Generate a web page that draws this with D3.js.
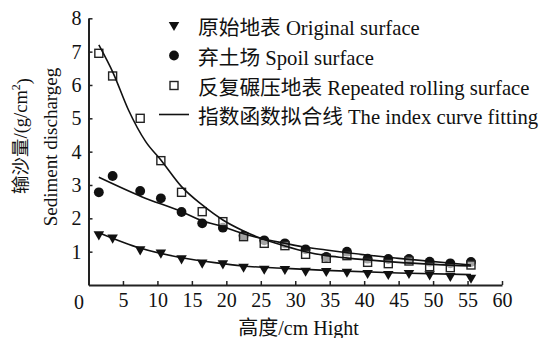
<!DOCTYPE html>
<html>
<head>
<meta charset="utf-8">
<script src="https://cdn.jsdelivr.net/npm/d3@7"></script>
<style>
  html, body { margin: 0; padding: 0; background: #fff; }
  svg text { font-family: "Liberation Serif", "Times New Roman", Tinos, "DejaVu Serif", serif; fill: #111; }
</style>
</head>
<body>
<svg id="chart" width="554" height="338"></svg>
<script>
// 高度 (cm)
const heights = [1.5, 3.5, 7.5, 10.5, 13.5, 16.5, 19.5, 22.5, 25.5, 28.5, 31.5, 34.5, 37.5, 40.5, 43.5, 46.5, 49.5, 52.5, 55.5];

// 输沙量 g/cm2
const original = [1.52, 1.42, 1.07, 0.97, 0.8, 0.67, 0.65, 0.55, 0.49, 0.48, 0.43, 0.42, 0.4, 0.36, 0.33, 0.36, 0.32, 0.27, 0.22];
const spoil    = [2.78, 3.27, 2.82, 2.6, 2.19, 1.85, 1.72, 1.48, 1.34, 1.25, 1.07, 0.84, 1.0, 0.79, 0.78, 0.78, 0.7, 0.65, 0.69];
const rolling  = [6.95, 6.27, 5.0, 3.73, 2.78, 2.2, 1.9, 1.45, 1.25, 1.18, 0.92, 0.8, 0.88, 0.68, 0.64, 0.72, 0.55, 0.52, 0.6];

// 拟合线 (读图取点)
const fitOriginal = [[1.5, 1.57], [7.6, 1.1], [13.5, 0.82], [18.3, 0.67], [22.4, 0.57], [28.6, 0.5], [34.4, 0.44], [45, 0.36], [55.5, 0.31]];
const fitSpoil    = [[1.5, 3.23], [7.7, 2.65], [13.5, 2.2], [16.5, 1.93], [19.5, 1.75], [22.5, 1.54], [25, 1.4], [28.5, 1.25], [31.5, 1.13], [34.5, 1.05], [37, 0.98], [45, 0.8], [55.5, 0.6]];
const fitRolling  = [[1.5, 7.2], [3.6, 6.35], [5.8, 5.25], [8.3, 4.3], [10.5, 3.75], [13.5, 2.95], [16.5, 2.4], [19.5, 1.95], [22.5, 1.62], [25, 1.4], [28.5, 1.17], [31.5, 1.0], [34.5, 0.88], [37, 0.82], [45, 0.68], [55.5, 0.57]];

const xTicks = [5, 10, 15, 20, 25, 30, 35, 40, 45, 50, 55, 60];
const yTicks = [1, 2, 3, 4, 5, 6, 7, 8];

const legendLabels = [
  "原始地表 Original surface",
  "弃土场 Spoil surface",
  "反复碾压地表 Repeated rolling surface",
  "指数函数拟合线 The index curve fitting"
];

const FONT = "'Liberation Serif', 'Times New Roman', Tinos, 'Noto Sans CJK SC', serif";

const svg = d3.select("#chart");

const x = d3.scaleLinear().domain([0, 60]).range([88.5, 502]);
const y = d3.scaleLinear().domain([0, 8]).range([285, 18.3]);

// 坐标轴
const xAxis = d3.axisBottom(x).tickValues(xTicks).tickSizeInner(-4).tickSizeOuter(0).tickPadding(10);
const yAxis = d3.axisLeft(y).tickValues(yTicks).tickSizeInner(-4).tickSizeOuter(0).tickPadding(7);

const gx = svg.append("g").attr("transform", `translate(0,${y(0)})`).call(xAxis);
const gy = svg.append("g").attr("transform", `translate(${x(0)},0)`).call(yAxis);

[gx, gy].forEach(g => {
  g.attr("font-family", null);
  g.select(".domain").attr("stroke", "#222").attr("stroke-width", 2);
  g.selectAll(".tick line").attr("stroke", "#222").attr("stroke-width", 1.5);
  g.selectAll(".tick text").style("font-size", "20px").style("font-family", FONT).attr("fill", "#111");
});
gx.selectAll(".tick text").attr("dy", "0.6em");

svg.append("text")
  .attr("x", x(0) - 9.5).attr("y", y(0) + 16.5)
  .attr("text-anchor", "middle").attr("dominant-baseline", "central")
  .style("font-family", FONT).style("font-size", "20px").text("0");

// 轴标题
svg.append("text")
  .attr("x", 298.5).attr("y", 328)
  .attr("text-anchor", "middle").attr("dominant-baseline", "central")
  .style("font-family", FONT).style("font-size", "20px").text("高度/cm Hight");

const yt1 = svg.append("text")
  .attr("transform", "translate(21,136) rotate(-90)")
  .attr("text-anchor", "middle").attr("dominant-baseline", "central")
  .style("font-family", FONT).style("font-size", "18.5px");
yt1.append("tspan").text("输沙量/(g/cm");
yt1.append("tspan").attr("dy", "-0.45em").style("font-size", "12px").text("2");
yt1.append("tspan").attr("dy", "0.45em").text(")");

svg.append("text")
  .attr("transform", "translate(50,147) rotate(-90)")
  .attr("text-anchor", "middle").attr("dominant-baseline", "central")
  .style("font-family", FONT).style("font-size", "19px").text("Sediment dischargeg");

// 标记
const tri = d3.symbol().type(d3.symbolTriangle).size(48);
const dot = d3.symbol().type(d3.symbolCircle).size(76);

const drawTri = (g, px, py) => g.append("path").attr("d", tri)
  .attr("transform", `translate(${px},${py}) rotate(180)`).attr("fill", "#111");
const drawDot = (g, px, py) => g.append("path").attr("d", dot)
  .attr("transform", `translate(${px},${py})`).attr("fill", "#111");
const drawSq = (g, px, py) => g.append("rect")
  .attr("x", px - 4).attr("y", py - 4).attr("width", 8).attr("height", 8)
  .attr("fill", "#fff").attr("fill-opacity", 0.62)
  .attr("stroke", "#222").attr("stroke-width", 1.4);

const marks = svg.append("g");
heights.forEach((h, i) => drawTri(marks, x(h), y(original[i])));
heights.forEach((h, i) => drawDot(marks, x(h), y(spoil[i])));
heights.forEach((h, i) => drawSq(marks, x(h), y(rolling[i])));

// 拟合线
const line = d3.line().x(d => x(d[0])).y(d => y(d[1])).curve(d3.curveMonotoneX);
[fitOriginal, fitSpoil, fitRolling].forEach(pts => {
  svg.append("path").attr("d", line(pts))
    .attr("fill", "none").attr("stroke", "#111").attr("stroke-width", 1.6);
});

// 图例
const legend = svg.append("g");
const rowY = [25, 55.5, 85.5, 114.5];
const symX = 174;
drawTri(legend, symX, rowY[0]);
drawDot(legend, symX, rowY[1]);
drawSq(legend, symX, rowY[2]).attr("fill-opacity", 1);
legend.append("line").attr("x1", 159).attr("x2", 189).attr("y1", rowY[3]).attr("y2", rowY[3])
  .attr("stroke", "#111").attr("stroke-width", 1.6);

legendLabels.forEach((t, i) => {
  legend.append("text")
    .attr("x", 198).attr("y", rowY[i] + 2.5)
    .attr("dominant-baseline", "central")
    .style("font-family", FONT).style("font-size", "20.7px").text(t);
});
</script>
</body>
</html>
